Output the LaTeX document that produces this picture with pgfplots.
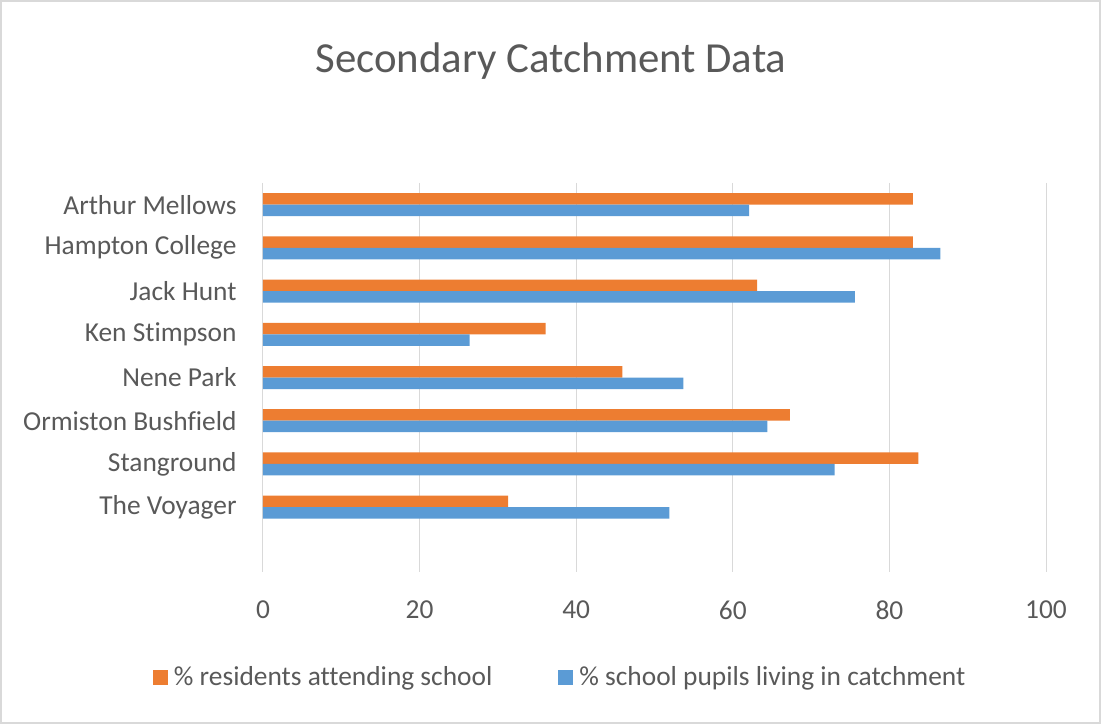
\documentclass[border=0pt]{standalone}
\usepackage{pgfplots}
\pgfplotsset{compat=1.18}
\usepackage{fontspec}
\setmainfont{Carlito}[Ligatures=NoCommon]
\definecolor{txt}{HTML}{595959}
\definecolor{gridc}{HTML}{D9D9D9}
\definecolor{resid}{HTML}{ED7D31}
\definecolor{pupil}{HTML}{5B9BD5}
\begin{document}
\begin{tikzpicture}[x=1bp,y=1bp]
\useasboundingbox (-263,-152) rectangle (838,572);
\draw[gridc, line width=1.5bp] (-262,-151) rectangle (837,571);
\node[txt, font=\fontsize{43}{50}\selectfont] at (288,511) {Secondary Catchment Data};
\begin{axis}[
    at={(0,0)}, anchor=south west,
    scale only axis, width=783bp, height=389bp,
    xbar, bar width=11.5bp,
    xmin=0, xmax=100, ymin=-0.5, ymax=8.5,
    y dir=reverse,
    xtick={0,20,...,100},
    ytick={0,...,7},
    yticklabels={Arthur Mellows, Hampton College, Jack Hunt, Ken Stimpson, Nene Park, Ormiston Bushfield, Stanground, The Voyager},
    xmajorgrids, grid style={gridc, line width=1bp},
    axis line style={draw=none}, major tick style={draw=none},
    /pgf/number format/assume math mode=true,
    ticklabel style={txt, font=\fontsize{27.5}{33}\selectfont},
    xticklabel style={anchor=center, yshift=-38bp},
    yticklabel style={anchor=east, inner sep=0pt, xshift=-22bp},
    legend columns=2,
    legend style={at={(0.3795,-0.27)}, anchor=center, draw=none, fill=none,
        text=txt, font=\fontsize{27.5}{33}\selectfont,
        /tikz/every even column/.append style={column sep=64bp}},
    legend image code/.code={\path[#1, draw=none] (0bp,-7.5bp) rectangle (15bp,7.5bp); \path (19bp,0bp);},
]
\addplot[fill=resid, draw=none, bar shift=5.75bp] coordinates {
    (83.0,0) (83.0,1) (63.1,2) (36.1,3) (45.9,4) (67.3,5) (83.7,6) (31.3,7)
};
\addplot[fill=pupil, draw=none, bar shift=-5.75bp] coordinates {
    (62.1,0) (86.5,1) (75.6,2) (26.4,3) (53.7,4) (64.4,5) (73.0,6) (51.9,7)
};
\legend{\% residents attending school, \% school pupils living in catchment}
\end{axis}
\end{tikzpicture}
\end{document}
